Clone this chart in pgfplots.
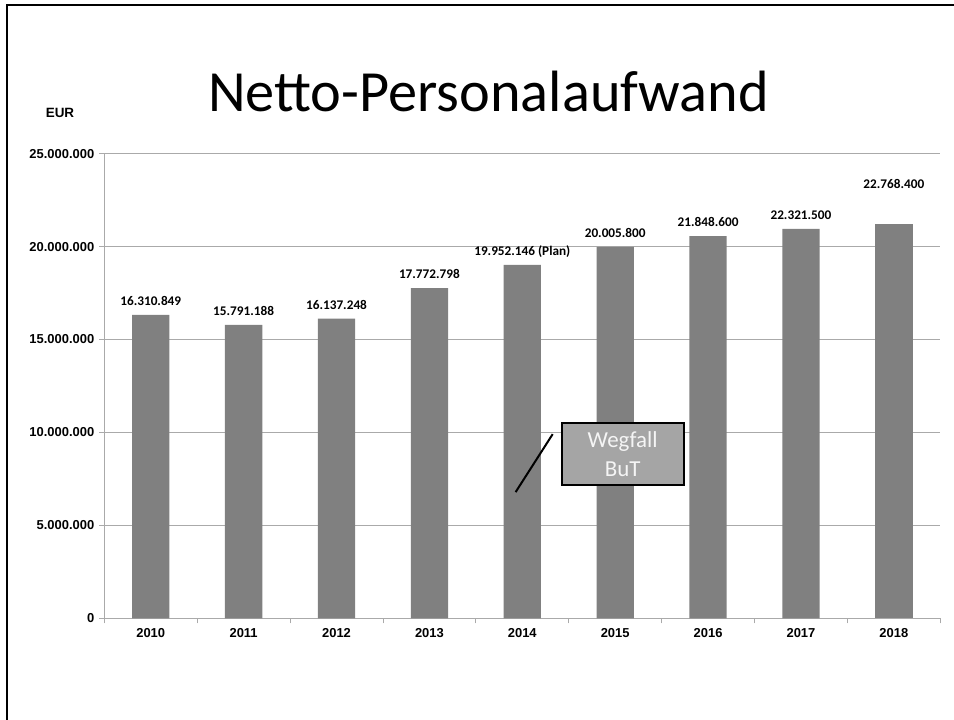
\documentclass[border=0pt]{standalone}
\usepackage{fontspec}
\setmainfont{Carlito}
\newfontfamily\arial{Liberation Sans}
\usepackage{pgfplots}
\usepackage{pgfplotstable}
\pgfplotsset{compat=1.18}

\definecolor{bargray}{RGB}{128,128,128}
\definecolor{gridgray}{RGB}{170,170,170}
\definecolor{boxgray}{RGB}{165,165,165}
\definecolor{boxtext}{RGB}{245,245,245}

% bar heights as drawn and the printed labels
\pgfplotstableread{
year value lab
2010 16330000 16.310.849
2011 15790000 15.791.188
2012 16130000 16.137.248
2013 17760000 17.772.798
2014 19020000 {19.952.146 (Plan)}
2015 19990000 20.005.800
2016 20560000 21.848.600
2017 20960000 22.321.500
}\costs
% 2018 sits apart: its label is set higher
\pgfplotstableread{
year value lab
2018 21210000 22.768.400
}\costslast

\begin{document}
\begin{tikzpicture}
\useasboundingbox (0,0) rectangle (954bp,720bp);
% slide frame
\draw[line width=2bp] (7bp,-2bp) -- (7bp,715bp) -- (956bp,715bp);
% title and unit
\node[font=\fontsize{58.5}{62}\selectfont, anchor=base] at (488.5bp,608bp) {Netto-Personalaufwand};
\node[font=\arial\bfseries\fontsize{13.5}{14}\selectfont] at (60bp,607bp) {EUR};

\begin{axis}[
  at={(104.3bp,101.7bp)}, anchor=south west,
  scale only axis,
  width=836bp, height=464.6bp,
  ybar, bar width=37.3bp, bar shift=0pt,
  xmin=2009.5, xmax=2018.5,
  ymin=0, ymax=25000000,
  scaled y ticks=false,
  ytick={0,5000000,10000000,15000000,20000000,25000000},
  yticklabels={0,5.000.000,10.000.000,15.000.000,20.000.000,25.000.000},
  xtick={2010,2011,2012,2013,2014,2015,2016,2017,2018},
  xticklabels={2010,2011,2012,2013,2014,2015,2016,2017,2018},
  minor xtick={2009.5,2010.5,2011.5,2012.5,2013.5,2014.5,2015.5,2016.5,2017.5,2018.5},
  major x tick style={draw=none},
  minor x tick style={draw=gridgray, line width=0.8bp},
  ytick style={draw=gridgray, line width=0.8bp},
  major tick length=5bp, minor tick length=5bp,
  tick align=outside, tick pos=left,
  axis lines*=left,
  axis line style={draw=gridgray, line width=0.8bp},
  ymajorgrids, grid style={draw=gridgray, line width=0.8bp},
  ticklabel style={font=\arial\bfseries\fontsize{13}{13}\selectfont},
  yticklabel style={xshift=-1.5bp},
  xticklabel style={yshift=-2bp},
  nodes near coords={\pgfplotspointmeta},
  point meta=explicit symbolic,
  nodes near coords style={anchor=base, inner sep=0pt, yshift=9.5bp,
    font=\bfseries\fontsize{13.3}{13}\selectfont, text=black},
]
\addplot[fill=bargray, draw=none] table[x=year, y=value, meta=lab] {\costs};
\addplot[fill=bargray, draw=none, nodes near coords style={yshift=25.7bp}]
  table[x=year, y=value, meta=lab] {\costslast};
\draw[black, line width=2bp] (axis cs:2013.928,6790000) -- (axis cs:2014.327,9910000);
\node[fill=boxgray, draw=black, line width=2bp, minimum width=122bp, minimum height=61.7bp,
  inner sep=0pt, align=center, text=boxtext, font=\fontsize{23}{29}\selectfont]
  at (axis cs:2015.08,8840000) {Wegfall\\BuT};
\end{axis}
\end{tikzpicture}
\end{document}
